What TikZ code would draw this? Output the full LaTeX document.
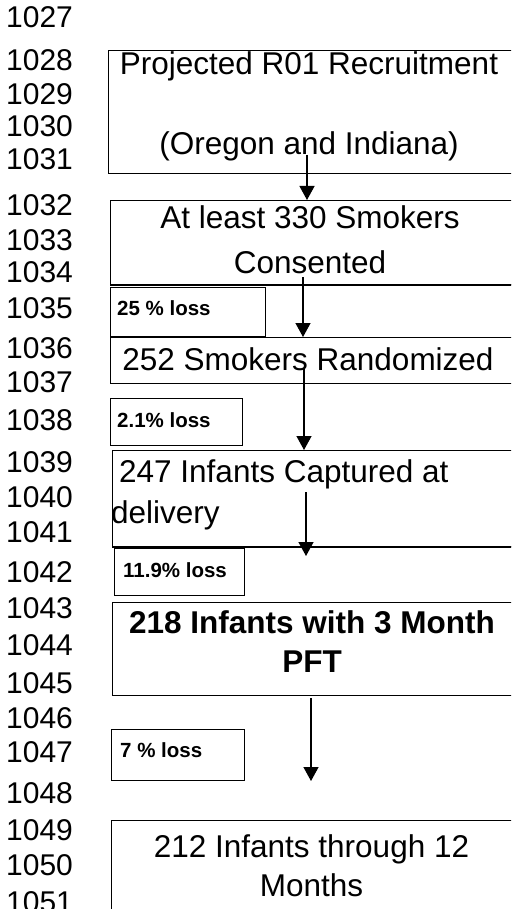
\documentclass[tikz,border=0pt]{standalone}
\usepackage{fontspec}
\setmainfont{Liberation Sans}
\usetikzlibrary{arrows.meta}

\tikzset{
  stage/.style={draw, line width=1.2pt, anchor=north west, inner sep=0pt},
  lossbox/.style={draw, line width=1.2pt, anchor=north west, inner sep=0pt},
  lbl/.style={anchor=base, inner sep=0pt, font=\fontsize{31.5}{36}\selectfont},
  lbll/.style={lbl, anchor=base west},
  losstxt/.style={anchor=base west, inner sep=0pt, font=\bfseries\fontsize{20.5}{24}\selectfont},
  linenum/.style={anchor=base west, inner sep=0pt, font=\fontsize{30}{34}\selectfont},
  flow/.style={line width=1.3pt, -{Triangle[width=15pt,length=14pt]}},
}

\begin{document}
\begin{tikzpicture}[x=1pt, y=-1pt]
    \useasboundingbox (0,0) rectangle (511,909);
    \clip (0,0) rectangle (511,909);
    \fill[white] (0,0) rectangle (511,909);

    % line numbers
    \foreach \n/\b in {1027/28, 1028/71, 1029/105, 1030/137, 1031/170, 1032/215,
        1033/250, 1034/282, 1035/318, 1036/358, 1037/392, 1038/430, 1039/472,
        1040/507, 1041/542, 1042/582, 1043/618, 1044/655, 1045/693, 1046/728,
        1047/762, 1048/803, 1049/840, 1050/875, 1051/912}
        \node[linenum] (ln\n) at (6,\b) {\n};

    % stage boxes
    \node[stage, minimum width=410pt, minimum height=123pt] (recruit) at (108,50) {};
    \node[stage, minimum width=410pt, minimum height=84pt] (consent) at (110,200) {};
    \node[stage, minimum width=410pt, minimum height=46pt] (random) at (110,337) {};
    \node[stage, minimum width=410pt, minimum height=96pt] (deliver) at (112,450) {};
    \node[stage, minimum width=410pt, minimum height=93pt] (pft) at (112,602) {};
    \node[stage, minimum width=410pt, minimum height=120pt] (month) at (111,820) {};
    \draw[line width=2.2pt] (consent.south west) -- (consent.south east);
    \draw[line width=2.2pt] (deliver.south west) -- (deliver.south east);

    % loss boxes
    \node[lossbox, minimum width=155pt, minimum height=49pt] (loss1) at (110,287) {};
    \node[lossbox, minimum width=132pt, minimum height=47pt] (loss2) at (110,398) {};
    \node[lossbox, minimum width=130pt, minimum height=47pt] (loss3) at (114,548) {};
    \node[lossbox, minimum width=133pt, minimum height=51pt] (loss4) at (111,729) {};

    % texts
    \node[lbl] (recruitA) at (309,75) {Projected R01 Recruitment};
    \node[lbl] (recruitB) at (309,155) {(Oregon and Indiana)};
    \node[lbl] (consentA) at (310,229) {At least 330 Smokers};
    \node[lbl] (consentB) at (310,273) {Consented};
    \node[lbl] (randomA) at (308,370) {252 Smokers Randomized};
    \node[lbll] (deliverA) at (119,482) {247 Infants Captured at};
    \node[lbll] (deliverB) at (111,523) {delivery};
    \node[lbl, font=\bfseries\fontsize{31.5}{36}\selectfont] (pftA) at (312,633) {218 Infants with 3 Month};
    \node[lbl, font=\bfseries\fontsize{31.5}{36}\selectfont] (pftB) at (312,672) {PFT};
    \node[lbl] (monthA) at (311.5,857) {212 Infants through 12};
    \node[lbl] (monthB) at (311.5,896) {Months};

    \node[losstxt] (loss1t) at (117,315) {25 \% loss};
    \node[losstxt] (loss2t) at (117,427) {2.1\% loss};
    \node[losstxt] (loss3t) at (123,577) {11.9\% loss};
    \node[losstxt] (loss4t) at (120,757) {7 \% loss};

    % arrows
    \coordinate (a1) at (307,155);
    \coordinate (a2) at (303,277);
    \coordinate (a3) at (304,368);
    \coordinate (a4) at (306,492);
    \coordinate (a4e) at (306,556);
    \coordinate (a5) at (311,698);
    \coordinate (a5e) at (311,781);
    \draw[flow] (a1) -- (a1 |- consent.north);
    \draw[flow] (a2) -- (a2 |- random.north);
    \draw[flow] (a3) -- (a3 |- deliver.north);
    \draw[flow] (a4) -- (a4e);
    \draw[flow] (a5) -- (a5e);
\end{tikzpicture}
\end{document}
